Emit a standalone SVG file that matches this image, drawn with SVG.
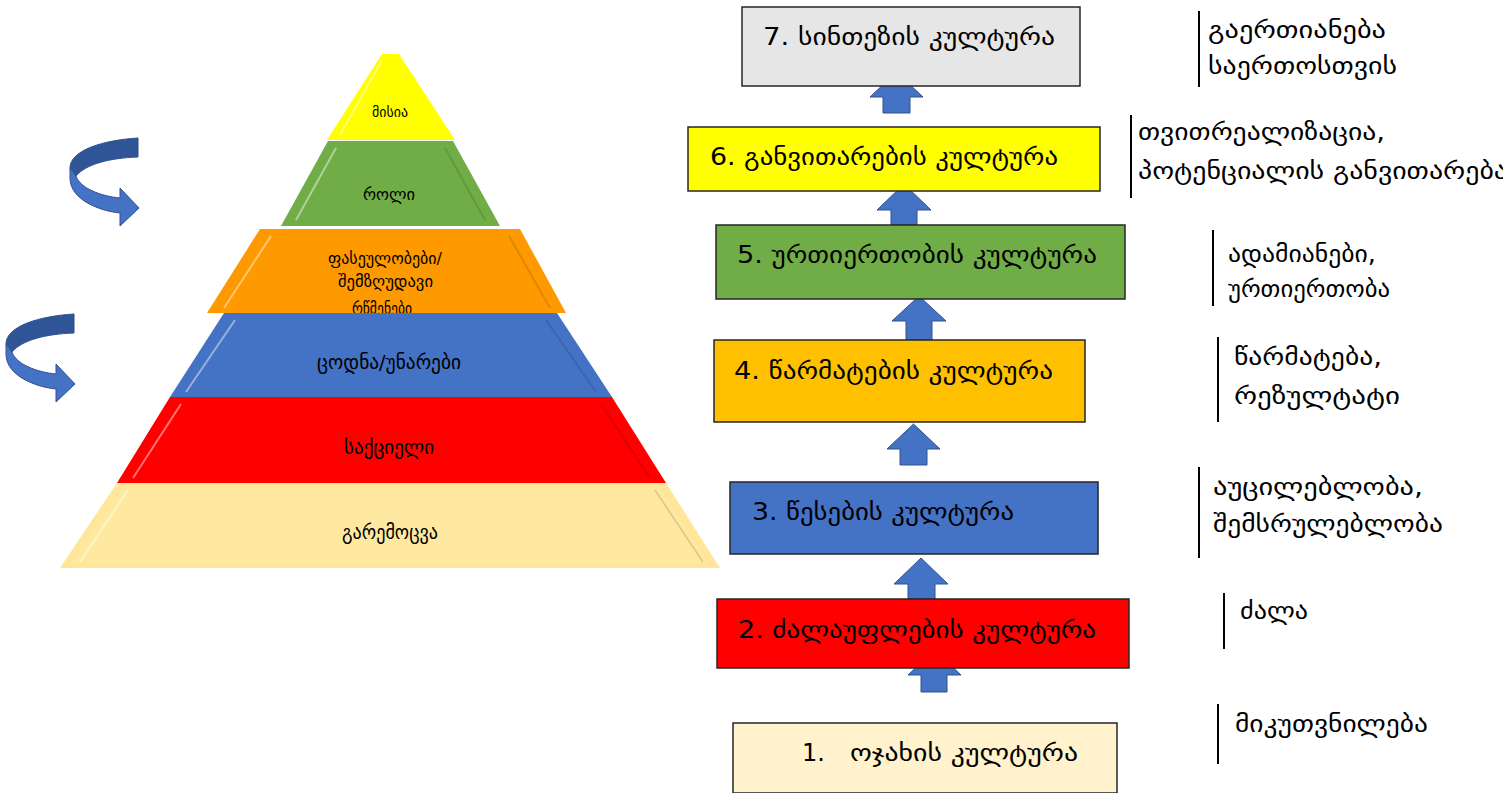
<svg xmlns="http://www.w3.org/2000/svg" width="1503" height="793" viewBox="0 0 1503 793">
<style>
.bx{stroke:#262626;stroke-width:1.5}
.bt{font-family:"DejaVu Sans",sans-serif;font-size:24px;fill:#000}
.rt{font-family:"DejaVu Sans",sans-serif;font-size:24px;fill:#000}
.pt{font-family:"DejaVu Sans",sans-serif;fill:#000}
.vl{stroke:#000;stroke-width:2}
.ar{fill:#4472c4;stroke:#2f528f;stroke-width:1}
.hl{fill:none;stroke:#fff;stroke-opacity:0.45;stroke-width:2}
.sh{fill:none;stroke:#000;stroke-opacity:0.12;stroke-width:2}
</style>
<defs>
<g id="curl">
<path d="M138,138 C104,140 70,150 70,168 L76,176 C86,164 110,158 138,157 Z" fill="#2f5597" stroke="#2f528f" stroke-width="1"/>
<path d="M70,168 L70,178 C70,200 100,211 120,213 L120,226 L139,208 L120,188 L120,198 C100,196 80,188 76,176 Z" fill="#4472c4" stroke="#2f528f" stroke-width="1"/>
</g>
</defs>

<g id="curved-arrows">
<use href="#curl"/>
<use href="#curl" transform="translate(-64,176)"/>
</g>

<g id="pyramid">
<g id="layer-misia">
<polygon points="382,54 399,54 455,140 327,140" fill="#ffff00"/>
<line x1="382" y1="60" x2="340" y2="135" class="hl"/>
<text class="pt" x="372" y="117" font-size="14" textLength="36" lengthAdjust="spacingAndGlyphs">მისია</text>
</g>
<g id="layer-roli">
<polygon points="328,141 453,141 500,226 281,226" fill="#70ad47"/>
<line x1="336" y1="148" x2="296" y2="220" class="hl"/>
<line x1="445" y1="148" x2="485" y2="220" class="sh"/>
<text class="pt" x="363" y="200" font-size="16" textLength="52" lengthAdjust="spacingAndGlyphs">როლი</text>
</g>
<g id="layer-fasuloba">
<polygon points="260,229 520,229 566,313 207,313" fill="#ff9900"/>
<line x1="271" y1="236" x2="224" y2="308" class="hl"/>
<line x1="509" y1="236" x2="550" y2="308" class="sh"/>
<text class="pt" x="328" y="264" font-size="16" textLength="114" lengthAdjust="spacingAndGlyphs">ფასეულობები/</text>
<text class="pt" x="338" y="287" font-size="16" textLength="95" lengthAdjust="spacingAndGlyphs">შემზღუდავი</text>
<text class="pt" x="352" y="314" font-size="16" textLength="60" lengthAdjust="spacingAndGlyphs">რწმენები</text>
</g>
<g id="layer-codna">
<polygon points="224,313 557,313 612,397 170,397" fill="#4472c4"/>
<line x1="235" y1="320" x2="186" y2="392" class="hl"/>
<line x1="546" y1="320" x2="596" y2="392" class="sh"/>
<text class="pt" x="317" y="369" font-size="20" textLength="144" lengthAdjust="spacingAndGlyphs">ცოდნა/უნარები</text>
</g>
<g id="layer-saqcieli">
<polygon points="170,397 612,397 666,483 117,483" fill="#ff0000"/>
<line x1="181" y1="404" x2="133" y2="478" class="hl"/>
<line x1="601" y1="404" x2="650" y2="478" class="sh"/>
<text class="pt" x="344" y="454" font-size="20" textLength="90" lengthAdjust="spacingAndGlyphs">საქციელი</text>
</g>
<g id="layer-garemocva">
<polygon points="117,483 666,483 720,568 60,568" fill="#ffe699"/>
<polygon points="122,488 661,488 708,563 72,563" fill="#ffeca8" opacity="0.5"/>
<line x1="128" y1="490" x2="80" y2="562" class="hl"/>
<line x1="655" y1="490" x2="703" y2="562" class="sh"/>
<text class="pt" x="342" y="539" font-size="20" textLength="96" lengthAdjust="spacingAndGlyphs">გარემოცვა</text>
</g>
</g>

<g id="connectors">
<polygon class="ar" points="896.5,72 923,97 910,97 910,113 883,113 883,97 870,97"/>
<polygon class="ar" points="904,184 931,210 917,210 917,225 891,225 891,210 877,210"/>
<polygon class="ar" points="919,296 946,321 932,321 932,340 906,340 906,321 892,321"/>
<polygon class="ar" points="913.5,424 940,449 927,449 927,465 900,465 900,449 887,449"/>
<polygon class="ar" points="921,558 948,584 935,584 935,599 908,599 908,584 894,584"/>
<polygon class="ar" points="934.5,650 961,675 947,675 947,692 921,692 921,675 908,675"/>
</g>

<g id="box7">
<rect class="bx" x="742" y="7" width="338" height="79" fill="#e7e6e6"/>
<text class="bt" x="763" y="45" textLength="292" lengthAdjust="spacingAndGlyphs">7. სინთეზის კულტურა</text>
</g>
<g id="box6">
<rect class="bx" x="688" y="127" width="412" height="64" fill="#ffff00"/>
<text class="bt" x="710" y="165" textLength="348" lengthAdjust="spacingAndGlyphs">6. განვითარების კულტურა</text>
</g>
<g id="box5">
<rect class="bx" x="716" y="225" width="409" height="74" fill="#70ad47"/>
<text class="bt" x="737" y="263" textLength="360" lengthAdjust="spacingAndGlyphs">5. ურთიერთობის კულტურა</text>
</g>
<g id="box4">
<rect class="bx" x="714" y="340" width="371" height="82" fill="#ffc000"/>
<text class="bt" x="734" y="379" textLength="319" lengthAdjust="spacingAndGlyphs">4. წარმატების კულტურა</text>
</g>
<g id="box3">
<rect class="bx" x="730" y="482" width="368" height="72" fill="#4472c4"/>
<text class="bt" x="752" y="520" textLength="262" lengthAdjust="spacingAndGlyphs">3. წესების კულტურა</text>
</g>
<g id="box2">
<rect class="bx" x="717" y="599" width="412" height="69" fill="#ff0000"/>
<text class="bt" x="738" y="638" textLength="358" lengthAdjust="spacingAndGlyphs">2. ძალაუფლების კულტურა</text>
</g>
<g id="box1">
<rect class="bx" x="733" y="723" width="384" height="70" fill="#fff2cc"/>
<text class="bt" x="802" y="761">1.</text>
<text class="bt" x="850" y="761" textLength="228" lengthAdjust="spacingAndGlyphs">ოჯახის კულტურა</text>
</g>

<g id="note7">
<line class="vl" x1="1199" y1="11" x2="1199" y2="87"/>
<text class="rt" x="1208" y="38" textLength="178" lengthAdjust="spacingAndGlyphs">გაერთიანება</text>
<text class="rt" x="1208" y="74" textLength="189" lengthAdjust="spacingAndGlyphs">საერთოსთვის</text>
</g>
<g id="note6">
<line class="vl" x1="1131" y1="115" x2="1131" y2="198"/>
<text class="rt" x="1138" y="140" textLength="247" lengthAdjust="spacingAndGlyphs">თვითრეალიზაცია,</text>
<text class="rt" x="1138" y="179" textLength="370" lengthAdjust="spacingAndGlyphs">პოტენციალის განვითარება</text>
</g>
<g id="note5">
<line class="vl" x1="1213" y1="230" x2="1213" y2="306"/>
<text class="rt" x="1228" y="262" textLength="148" lengthAdjust="spacingAndGlyphs">ადამიანები,</text>
<text class="rt" x="1228" y="297" textLength="162" lengthAdjust="spacingAndGlyphs">ურთიერთობა</text>
</g>
<g id="note4">
<line class="vl" x1="1218" y1="337" x2="1218" y2="422"/>
<text class="rt" x="1234" y="365" textLength="148" lengthAdjust="spacingAndGlyphs">წარმატება,</text>
<text class="rt" x="1234" y="404" textLength="166" lengthAdjust="spacingAndGlyphs">რეზულტატი</text>
</g>
<g id="note3">
<line class="vl" x1="1199" y1="467" x2="1199" y2="558"/>
<text class="rt" x="1213" y="495" textLength="210" lengthAdjust="spacingAndGlyphs">აუცილებლობა,</text>
<text class="rt" x="1213" y="532" textLength="230" lengthAdjust="spacingAndGlyphs">შემსრულებლობა</text>
</g>
<g id="note2">
<line class="vl" x1="1224" y1="593" x2="1224" y2="649"/>
<text class="rt" x="1240" y="619" textLength="68" lengthAdjust="spacingAndGlyphs">ძალა</text>
</g>
<g id="note1">
<line class="vl" x1="1218" y1="704" x2="1218" y2="764"/>
<text class="rt" x="1235" y="732" textLength="193" lengthAdjust="spacingAndGlyphs">მიკუთვნილება</text>
</g>
</svg>
